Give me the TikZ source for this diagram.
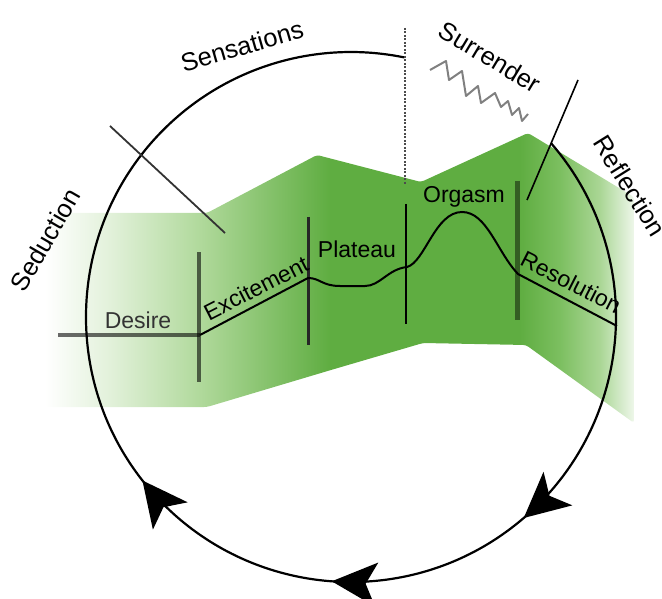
\documentclass[tikz,border=0pt]{standalone}
\usepackage{fontspec}
\setmainfont{Liberation Sans}
\usetikzlibrary{arrows.meta,decorations.markings}
\definecolor{bandgreen}{HTML}{5FAD41}
\definecolor{bandpale}{HTML}{E2F1DA}
\definecolor{bandlight}{HTML}{B0D99B}
\definecolor{bandmid}{HTML}{7CBF60}
\definecolor{bandlighter}{HTML}{AAD695}
\definecolor{bandfade}{HTML}{EEF7EA}
\pgfdeclarehorizontalshading{bandshade}{100bp}{color(0bp)=(white); color(25bp)=(white);
  color(30.5bp)=(bandpale); color(38.2bp)=(bandlight); color(49.2bp)=(bandgreen);
  color(65.3bp)=(bandgreen); color(68.7bp)=(bandmid); color(72.1bp)=(bandlighter);
  color(75bp)=(bandfade); color(100bp)=(bandfade)}

\begin{document}
\begin{tikzpicture}[x=1pt, y=-1pt,
    lbl/.style={font=\fontsize{23}{27}\selectfont},
    outer/.style={font=\fontsize{25.5}{30}\selectfont},
    phase/.style={line width=4pt, black, opacity=0.58},
    bigtip/.tip={Stealth[length=45pt, width=44pt, inset=11pt]}]
  \useasboundingbox (0,0) rectangle (662,599);

  \shade[shading=bandshade, rounded corners=3pt] (45,213) -- (207,213) -- (317,155) -- (421,182) -- (528,133)
    -- (634,197) -- (634,423) -- (526,345) -- (423,343) -- (331,370) -- (207,407) -- (45,407) -- cycle;

  \coordinate (c) at (351,317);
  \coordinate (desL) at (58,335);
  \coordinate (desR) at (200,335);
  \coordinate (excR) at (308,278);
  \coordinate (platR) at (407,267);
  \coordinate (orgR) at (518,274);
  \coordinate (resR) at (617,326);

  \draw[line width=2.2pt, postaction={decorate}, decoration={markings,
      mark=at position 0.28 with {\arrow{bigtip}},
      mark=at position 0.419 with {\arrow{bigtip}},
      mark=at position 0.567 with {\arrow{bigtip}}}]
    ([shift={(-41:265)}]c) arc[start angle=-41, end angle=281.6, radius=265];

  \draw[phase] (desL) -- (desR);
  \draw[phase] (199,252) -- (199,382);
  \draw[line width=3pt, black!85] (308,217) -- (308,345);
  \draw[line width=2.8pt] (406,204) -- (406,324);
  \draw[phase, line width=5pt, opacity=0.45] (517,181) -- (517,320);
  \draw[line width=2pt] (desR) -- (excR) .. controls (320,278) and (322,286) .. (340,286) -- (365,286)
    .. controls (380,286) and (388,269) .. (platR) .. controls (425,262) and (435,212) .. (462,212)
    .. controls (487,212) and (497,252) .. (orgR) -- (resR);

  \draw[dash pattern=on 2pt off 1.5pt, line width=2.2pt, black!70] (405,28) -- (405,185);
  \draw[line width=1.8pt, black!80] (110,126) -- (225,233);
  \draw[line width=1.6pt] (578,80) -- (527,200);
  \draw[gray, line width=2pt, line join=round] (430,70) -- (446,61) -- (449,80) -- (462,71) -- (466,96)
    -- (478,86) -- (481,103) -- (495,93) -- (501,107) -- (508,101) -- (512,115) -- (519,108)
    -- (522,121) -- (528,114);

  \node[outer, rotate=16] (sens) at (242,46) {Sensations};
  \node[outer, rotate=60] (sed) at (45,240) {Seduction};
  \node[outer, rotate=-31] (surr) at (490,57) {Surrender};
  \node[outer, rotate=-58] (refl) at (630,186) {Reflection};
  \node[lbl, black!80] (des) at (138,320) {Desire};
  \node[lbl, rotate=27] (exc) at (256,288) {Excitement};
  \node[lbl] (plat) at (357,249) {Plateau};
  \node[lbl] (org) at (464,197) {Orgasm};
  \node[lbl, rotate=-27] (res) at (571,282) {Resolution};
\end{tikzpicture}
\end{document}
